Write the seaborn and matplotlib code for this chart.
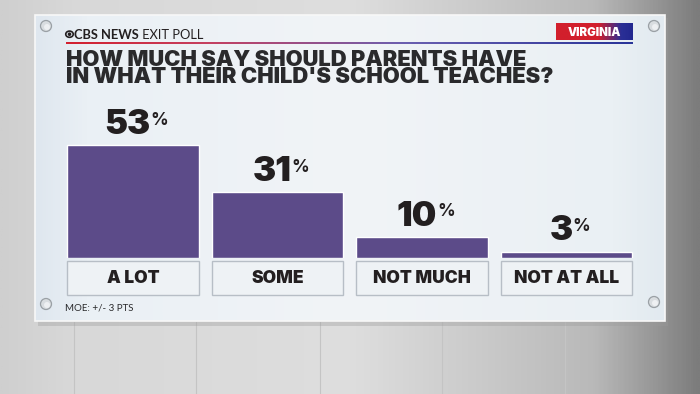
import numpy as np
import matplotlib
matplotlib.use("Agg")
import matplotlib.pyplot as plt
from matplotlib.colors import LinearSegmentedColormap
from matplotlib.patches import Rectangle, Circle, Ellipse
import seaborn as sns
import pandas as pd

# ---- data ----
categories = ["A LOT", "SOME", "NOT MUCH", "NOT AT ALL"]
values = [53, 31, 10, 3]
title_lines = ["HOW MUCH SAY SHOULD PARENTS HAVE", "IN WHAT THEIR CHILD'S SCHOOL TEACHES?"]
state = "VIRGINIA"
note = "MOE: +/- 3 PTS"

sns.set_theme(style="white")
plt.rcParams["font.family"] = ["Lato", "DejaVu Sans"]
HEAVY = ["Inter", "Roboto", "DejaVu Sans"]

W, H = 700, 394
fig = plt.figure(figsize=(7, 3.94), dpi=100)

# ---- background (pixel coordinates) ----
bg = fig.add_axes([0, 0, 1, 1])
bg.axis("off")
xs = np.linspace(0, 1, 400)
bg_cmap = LinearSegmentedColormap.from_list(
    "bg", [(0, "#cfcfcf"), (0.1, "#d8d8d8"), (0.5, "#dedede"), (0.85, "#b9b9b9"), (0.93, "#9a9a9a"), (1, "#7c7c7c")])
bg.imshow(np.tile(xs, (20, 1)), cmap=bg_cmap, extent=(0, W, H, 0), aspect="auto", origin="upper", zorder=0)
for lx in [74, 196, 320, 442, 565]:
    bg.plot([lx, lx], [322, H], color="#c4c4c4", lw=0.8, zorder=1)
# panel shadow
bg.add_patch(Rectangle((38, 18), 630, 308, facecolor="#9a9a9a", alpha=0.35, edgecolor="none", zorder=2))
# panel with subtle gradient
panel_cmap = LinearSegmentedColormap.from_list(
    "panel", [(0, "#dfe7ef"), (0.08, "#eaf0f5"), (0.5, "#f1f4f7"), (0.92, "#eaf0f4"), (1, "#e2eaf0")])
bg.imshow(np.tile(xs, (20, 1)), cmap=panel_cmap, extent=(35, 665, 321, 15), aspect="auto", origin="upper", zorder=3)
bg.add_patch(Rectangle((35, 15), 630, 306, facecolor="none", edgecolor="#f8f8f8", lw=1.2, zorder=4))

# screws
for sx, sy in [(46, 26), (654, 26), (46, 304), (654, 302)]:
    bg.add_patch(Circle((sx, sy), 5.5, facecolor="#d9dde0", edgecolor="#9aa0a5", lw=0.9, zorder=5))
    bg.add_patch(Circle((sx + 1, sy + 1), 3, facecolor="#eef0f2", edgecolor="none", zorder=6))

# logo
bg.add_patch(Ellipse((69.5, 34.2), 7.5, 6.2, facecolor="none", edgecolor="#231f20", lw=1.2, zorder=6))
bg.add_patch(Circle((69.5, 34.2), 1.8, facecolor="#231f20", edgecolor="none", zorder=6))
logo1 = bg.text(74, 38.5, "CBS NEWS", fontsize=9.3, fontweight="bold", color="#231f20", va="baseline", ha="left", zorder=7)
bg.annotate(" EXIT POLL", xy=(1, 0), xycoords=logo1, fontsize=9.3, color="#231f20", va="bottom", ha="left", zorder=7)

# gradient rule under logo
line_cmap = LinearSegmentedColormap.from_list("line", [(0, "#d3202f"), (0.25, "#c54060"), (0.6, "#6a5fb0"), (1, "#2a3599")])
bg.imshow(np.tile(xs, (2, 1)), cmap=line_cmap, extent=(66, 633, 44.2, 42.6), aspect="auto", origin="upper", zorder=6)

# state badge
badge_cmap = LinearSegmentedColormap.from_list("badge", [(0, "#d21f2c"), (0.55, "#d21f2c"), (0.85, "#2a2f96"), (1, "#23288f")])
bg.imshow(np.tile(xs, (2, 1)), cmap=badge_cmap, extent=(556, 633, 40, 23), aspect="auto", origin="upper", zorder=6)
bg.text(594.5, 35.5, state, fontsize=8.3, fontweight="black", family=HEAVY, color="white",
        ha="center", va="baseline", zorder=7)

# title (single text, two lines)
bg.text(66, 83, "\n".join(title_lines), fontsize=15.8, fontweight="black", family=HEAVY, color="#2a2a2c",
        ha="left", va="baseline", linespacing=0.84, zorder=7)

# note
bg.text(65, 310.5, note, fontsize=7, color="#2a2a2c", ha="left", va="baseline", zorder=7)

bg.set_xlim(0, W)
bg.set_ylim(H, 0)

# ---- bar chart ----
px_per_unit = 2.13
ymax = 60
left_px, right_px = 60.75, 638.75
bottom_px = 258
ax = fig.add_axes([left_px / W, (H - bottom_px) / H, (right_px - left_px) / W, ymax * px_per_unit / H])
df = pd.DataFrame({"category": categories, "value": values})
purple = "#5c4b89"
sns.barplot(data=df, x="category", y="value", color=purple, saturation=1, width=0.91, ax=ax, zorder=3)
ax.set_ylim(0, ymax)
ax.set_xlim(-0.5, len(categories) - 0.5)
ax.axis("off")

for i, (cat, v) in enumerate(zip(categories, values)):
    t = ax.annotate(f"{v}", xy=(i, v), xytext=(-4, 8), textcoords="offset points",
                    ha="center", va="baseline", fontsize=25, fontweight="black", family=HEAVY,
                    color="#231f20", zorder=5)
    ax.annotate("%", xy=(1, 1), xycoords=t, xytext=(0.2, -2), textcoords="offset points",
                ha="left", va="top", fontsize=12.5, fontweight="bold", family=HEAVY, color="#231f20", zorder=5)
    # label box
    bw = 0.91
    ax.add_patch(Rectangle((i - bw / 2, -17.4), bw, 16.0, facecolor="#eef2f5", edgecolor="#b7bec6",
                           lw=1.0, clip_on=False, zorder=3))
    ax.text(i, -9.4, cat, ha="center", va="center", fontsize=12.5, fontweight="black", family=HEAVY,
            color="#231f20", clip_on=False, zorder=4)

fig.savefig("out.png", dpi=100)
